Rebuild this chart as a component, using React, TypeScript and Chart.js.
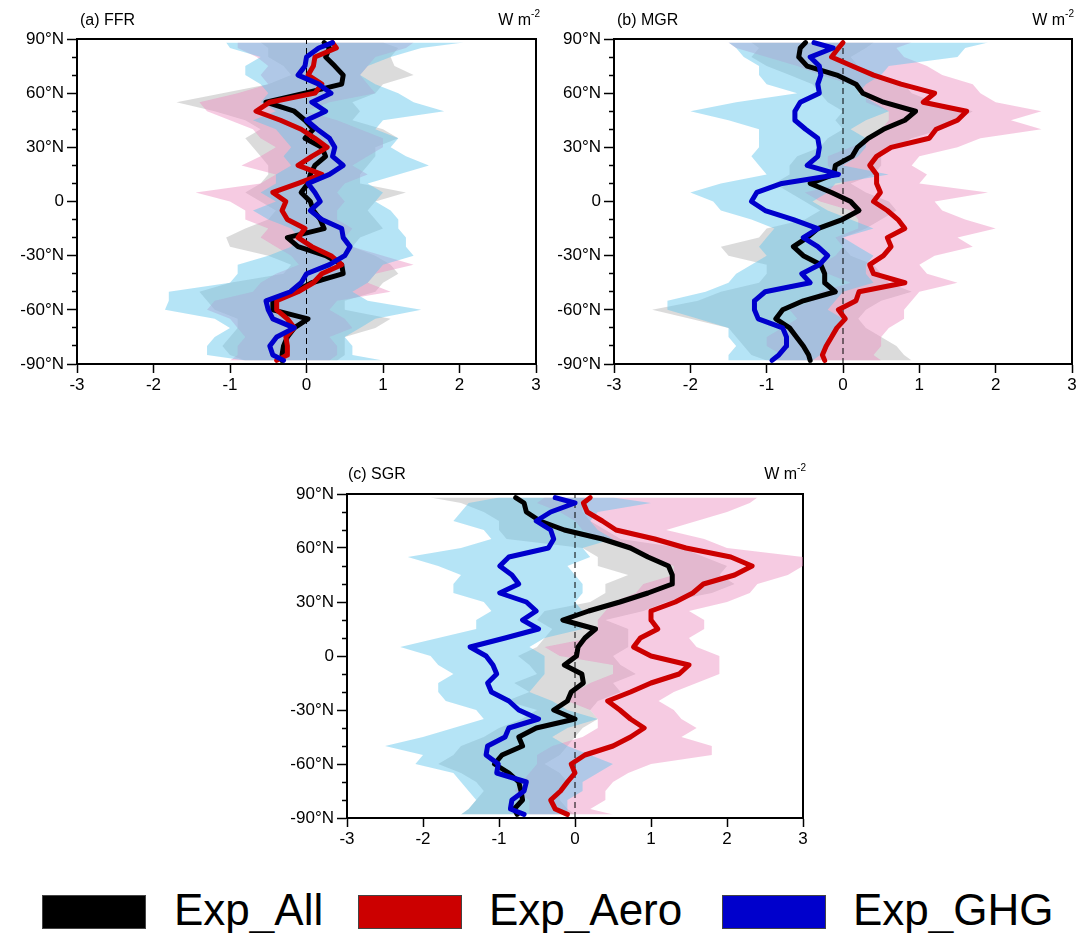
import React, { useEffect, useRef } from 'react';
import { Chart, registerables } from 'chart.js';

Chart.register(...registerables);

// Latitudes (north to south)
const lats = [88, 85, 80, 75, 70, 65, 60, 55, 50, 45, 40, 35, 30, 25, 20, 15, 10, 5, 0, -5, -10, -15, -20, -25, -30, -35, -40, -45, -50, -55, -60, -65, -70, -75, -80, -85, -88];

// x-axis ticks
const xTicks = [-3, -2, -1, 0, 1, 2, 3];

// ---------- (a) FFR ----------
const ffrAll = [0.23, 0.30, 0.25, 0.37, 0.48, 0.46, -0.02, -0.53, -0.16, -0.02, 0.09, -0.02, 0.20, 0.25, 0.11, 0.05, 0.02, -0.07, 0.05, 0.09, 0.18, 0.23, -0.25, -0.11, 0.25, 0.46, 0.48, 0.07, -0.16, -0.44, -0.44, 0.02, -0.16, -0.25, -0.30, -0.32, -0.32];
const ffrAero = [0.34, 0.39, 0.11, 0.09, 0.02, 0.20, 0.11, -0.48, -0.66, -0.34, -0.07, 0.11, 0.27, 0.07, -0.11, 0.20, -0.11, -0.44, -0.27, -0.32, -0.25, -0.02, -0.11, 0.07, 0.32, 0.46, 0.20, 0.09, -0.11, -0.39, -0.39, -0.25, -0.16, -0.27, -0.25, -0.25, -0.39];
const ffrGhg = [0.34, 0.16, 0.00, -0.02, -0.11, 0.16, 0.32, 0.07, 0.25, 0.00, 0.14, 0.30, 0.37, 0.34, 0.48, 0.30, 0.02, 0.11, 0.18, 0.05, 0.20, 0.46, 0.48, 0.57, 0.50, 0.30, 0.00, -0.07, -0.21, -0.53, -0.50, -0.44, -0.16, -0.39, -0.48, -0.44, -0.30];
const ffrAllLo = [-0.6, -0.5, -0.5, -0.3, -0.2, -0.5, -1.1, -1.7, -1.2, -0.8, -0.6, -0.8, -0.7, -0.6, -0.5, -0.5, -0.6, -0.8, -0.6, -0.4, -0.5, -0.8, -1.05, -1.0, -0.5, -0.2, -0.3, -1.0, -1.4, -1.3, -1.2, -0.9, -0.9, -1.0, -1.1, -1.0, -0.8];
const ffrAllHi = [1.0, 1.2, 1.1, 1.15, 1.4, 1.0, 0.9, 0.6, 0.7, 0.6, 1.0, 1.2, 0.9, 0.9, 0.8, 0.7, 0.7, 1.3, 0.9, 0.8, 0.9, 1.0, 0.7, 0.6, 0.9, 1.1, 1.2, 1.0, 0.9, 0.5, 0.5, 1.1, 0.9, 0.5, 0.5, 0.5, 0.4];
const ffrAeroLo = [-0.9, -0.9, -0.65, -0.5, -0.6, -0.5, -0.9, -1.4, -1.3, -1.0, -0.7, -0.6, -0.4, -0.6, -0.85, -0.4, -0.6, -1.45, -1.0, -0.8, -0.8, -0.5, -0.6, -0.4, -0.2, -0.1, -0.4, -0.6, -0.7, -1.2, -1.3, -1.0, -0.9, -0.8, -0.9, -0.9, -1.0];
const ffrAeroHi = [1.4, 1.3, 0.9, 0.8, 0.7, 0.8, 0.9, 0.3, 0.0, 0.4, 0.7, 1.0, 1.0, 0.8, 0.6, 0.8, 0.5, 0.4, 0.5, 0.4, 0.4, 0.6, 0.5, 0.6, 1.0, 1.4, 0.9, 0.8, 1.1, 0.4, 0.3, 0.5, 0.6, 0.3, 0.4, 0.4, 0.3];
const ffrGhgLo = [-1.05, -1.0, -0.6, -0.8, -0.8, -0.6, -0.5, -0.6, -0.4, -0.7, -0.4, -0.3, -0.2, -0.3, -0.2, -0.4, -0.4, -0.6, -0.4, -0.7, -0.5, -0.2, -0.1, -0.2, -0.5, -0.9, -0.9, -1.0, -1.8, -1.8, -1.85, -1.2, -1.0, -1.2, -1.3, -1.3, -0.8];
const ffrGhgHi = [2.05, 1.5, 1.1, 0.8, 0.7, 0.9, 1.2, 1.4, 1.8, 1.0, 0.9, 1.2, 1.1, 1.3, 1.6, 1.2, 0.8, 1.0, 0.9, 1.1, 1.2, 1.2, 1.3, 1.3, 1.4, 1.0, 0.9, 0.8, 0.6, 0.8, 1.5, 0.9, 0.7, 0.5, 0.6, 0.6, 1.0];

// ---------- (b) MGR ----------
const mgrAll = [-0.49, -0.56, -0.58, -0.47, -0.08, 0.17, 0.26, 0.53, 0.95, 0.81, 0.53, 0.33, 0.19, 0.12, -0.10, -0.12, -0.43, -0.15, 0.10, 0.21, -0.01, -0.33, -0.47, -0.65, -0.52, -0.29, -0.24, -0.24, -0.10, -0.52, -0.79, -0.88, -0.70, -0.61, -0.52, -0.45, -0.43];
const mgrAero = [0.00, -0.06, -0.15, 0.12, 0.40, 0.76, 1.20, 1.05, 1.62, 1.50, 1.22, 1.13, 0.63, 0.44, 0.35, 0.44, 0.44, 0.49, 0.40, 0.58, 0.72, 0.81, 0.58, 0.63, 0.53, 0.35, 0.40, 0.81, 0.21, 0.17, -0.06, 0.03, -0.08, -0.15, -0.22, -0.27, -0.24];
const mgrGhg = [-0.38, -0.13, -0.43, -0.31, -0.29, -0.33, -0.31, -0.56, -0.63, -0.63, -0.49, -0.33, -0.31, -0.33, -0.47, -0.06, -0.80, -1.13, -1.20, -1.02, -0.65, -0.33, -0.52, -0.33, -0.20, -0.31, -0.54, -0.43, -1.02, -1.16, -1.16, -1.11, -0.79, -0.74, -0.74, -0.84, -0.93];
const mgrAllLo = [-1.2, -1.1, -1.2, -1.0, -0.7, -0.4, -0.3, -0.2, 0.0, -0.1, 0.0, -0.2, -0.3, -0.6, -0.7, -0.7, -0.9, -0.7, -0.5, -0.3, -0.5, -1.0, -1.1, -1.6, -1.5, -1.0, -1.0, -1.1, -1.6, -1.9, -2.5, -2.0, -1.5, -1.4, -1.3, -1.2, -1.0];
const mgrAllHi = [0.4, 0.3, 0.1, 0.2, 0.5, 0.8, 0.9, 1.2, 1.7, 1.5, 1.3, 0.9, 0.7, 0.5, 0.5, 0.4, 0.1, 0.3, 0.6, 0.7, 0.5, 0.3, 0.0, 0.0, 0.1, 0.4, 0.5, 0.6, 0.9, 0.5, 0.3, 0.2, 0.3, 0.5, 0.7, 0.8, 0.9];
const mgrAeroLo = [-1.5, -1.4, -1.0, -0.6, -0.3, 0.1, 0.3, 0.3, 0.6, 0.6, 0.5, 0.4, 0.1, -0.2, -0.2, -0.1, 0.0, -0.5, -0.3, 0.1, 0.2, 0.2, -0.1, 0.0, -0.1, -0.3, -0.2, 0.1, -0.3, -0.4, -0.7, -0.6, -0.8, -1.0, -1.0, -0.8, -0.9];
const mgrAeroHi = [0.9, 0.7, 0.8, 1.1, 1.3, 1.7, 1.8, 2.0, 2.6, 2.2, 2.6, 1.8, 1.5, 1.0, 0.9, 1.1, 1.0, 1.9, 1.2, 1.3, 1.6, 2.0, 1.5, 1.7, 1.2, 1.0, 1.1, 1.5, 1.0, 0.9, 0.8, 0.8, 0.6, 0.5, 0.5, 0.4, 0.5];
const mgrGhgLo = [-1.5, -1.4, -1.3, -1.1, -1.1, -1.0, -0.6, -1.4, -2.0, -1.5, -1.1, -1.1, -1.1, -1.2, -1.1, -1.0, -1.6, -2.0, -1.7, -1.6, -1.2, -0.9, -1.0, -1.1, -1.0, -1.2, -1.4, -1.5, -1.8, -2.3, -2.3, -1.9, -1.5, -1.5, -1.4, -1.5, -1.5];
const mgrGhgHi = [1.9, 1.6, 1.5, 0.6, 0.5, 0.3, 0.2, 0.4, 0.6, 0.3, 0.1, 0.3, 0.3, 0.2, 0.0, 0.6, -0.1, -0.2, -0.4, -0.2, 0.1, 0.4, 0.0, 0.2, 0.4, 0.3, 0.3, 0.4, 0.0, -0.1, -0.2, 0.0, -0.1, -0.2, -0.2, -0.3, -0.4];

// ---------- (c) SGR ----------
const sgrAll = [-0.78, -0.67, -0.64, -0.46, -0.14, 0.36, 0.73, 0.96, 1.23, 1.28, 1.28, 0.96, 0.59, 0.18, -0.16, 0.27, 0.13, 0.04, 0.02, -0.14, 0.09, 0.11, -0.05, -0.10, -0.28, 0.00, -0.51, -0.74, -0.69, -0.96, -1.06, -0.87, -0.74, -0.71, -0.69, -0.80, -0.76];
const sgrAero = [0.20, 0.11, 0.16, 0.36, 0.54, 1.05, 1.46, 2.05, 2.33, 2.10, 1.69, 1.55, 1.32, 1.00, 1.00, 1.09, 0.86, 0.77, 1.00, 1.50, 1.37, 1.00, 0.73, 0.43, 0.59, 0.73, 0.91, 0.73, 0.50, 0.13, -0.05, 0.00, -0.10, -0.19, -0.32, -0.26, -0.10];
const sgrGhg = [-0.26, 0.00, -0.32, -0.51, -0.32, -0.28, -0.35, -0.87, -0.99, -0.83, -0.74, -0.99, -0.64, -0.51, -0.69, -0.48, -0.92, -1.38, -1.17, -1.08, -1.03, -1.15, -1.10, -0.87, -0.74, -0.48, -0.87, -0.92, -1.15, -1.17, -1.01, -1.03, -0.64, -0.67, -0.83, -0.85, -0.67];
const sgrAllLo = [-1.9, -1.5, -1.2, -1.0, -1.0, -0.9, 0.1, 0.3, 0.3, 0.7, 0.4, 0.4, 0.2, -0.4, -0.5, -0.3, -0.4, -0.5, -0.75, -0.6, -0.5, -0.8, -0.6, -0.9, -0.5, -0.7, -1.0, -1.2, -1.5, -1.6, -1.8, -1.5, -1.3, -1.2, -1.3, -1.4, -1.5];
const sgrAllHi = [0.2, 0.1, 0.1, 0.2, 0.4, 0.6, 1.4, 1.7, 2.0, 1.9, 2.1, 1.8, 1.2, 0.9, 0.4, 0.7, 0.7, 0.7, 0.5, 0.6, 0.8, 0.5, 0.6, 0.3, 0.2, 0.3, 0.1, 0.0, -0.1, -0.2, -0.4, -0.2, -0.1, -0.2, -0.2, -0.1, 0.0];
const sgrAeroLo = [-0.4, -0.5, -0.2, 0.0, 0.1, 0.4, 0.8, 1.0, 1.3, 1.3, 0.9, 0.8, 0.5, 0.4, 0.3, 0.3, 0.2, -0.4, -0.2, 0.5, 0.5, 0.2, 0.0, -0.1, 0.2, 0.3, 0.3, 0.1, -0.3, -0.5, -0.5, -0.6, -0.7, -0.8, -0.6, -0.6, -0.6];
const sgrAeroHi = [2.4, 2.3, 2.0, 1.6, 1.2, 1.7, 2.0, 3.0, 3.0, 2.8, 2.4, 2.3, 2.0, 1.5, 1.7, 1.7, 1.5, 1.6, 1.9, 1.9, 1.9, 1.6, 1.3, 1.1, 1.3, 1.4, 1.6, 1.4, 1.8, 1.8, 1.0, 0.7, 0.5, 0.4, 0.4, 0.2, 0.5];
const sgrGhgLo = [-1.0, -1.4, -1.5, -1.6, -1.2, -1.1, -1.5, -2.2, -1.8, -1.5, -1.6, -1.6, -1.2, -1.1, -1.3, -1.3, -1.8, -2.3, -1.9, -1.8, -1.6, -1.8, -1.8, -1.7, -1.3, -1.2, -1.6, -2.0, -2.5, -2.0, -2.1, -1.6, -1.5, -1.4, -1.3, -1.4, -1.5];
const sgrGhgHi = [0.5, 1.0, 0.3, 0.2, 0.3, 0.5, 0.1, 0.2, -0.1, 0.0, 0.1, 0.1, 0.0, 0.1, -0.1, 0.1, -0.4, -0.6, -0.4, -0.4, -0.4, -0.5, -0.6, -0.3, -0.1, 0.3, -0.1, -0.3, -0.1, 0.2, 0.5, 0.3, 0.1, 0.1, -0.1, -0.1, -0.1];

const seriesNames = ['Exp_All', 'Exp_Aero', 'Exp_GHG'];
const lineColors = ['#000000', '#cc0000', '#0000cc'];
const bandColors = ['rgba(170,170,170,0.42)', 'rgba(235,140,190,0.45)', 'rgba(100,198,236,0.48)'];

const FONT = "'Liberation Sans', Arial, Helvetica, sans-serif";

type PanelData = {
  title: string;
  lines: number[][];
  lo: number[][];
  hi: number[][];
};

const panels: PanelData[] = [
  { title: '(a) FFR', lines: [ffrAll, ffrAero, ffrGhg], lo: [ffrAllLo, ffrAeroLo, ffrGhgLo], hi: [ffrAllHi, ffrAeroHi, ffrGhgHi] },
  { title: '(b) MGR', lines: [mgrAll, mgrAero, mgrGhg], lo: [mgrAllLo, mgrAeroLo, mgrGhgLo], hi: [mgrAllHi, mgrAeroHi, mgrGhgHi] },
  { title: '(c) SGR', lines: [sgrAll, sgrAero, sgrGhg], lo: [sgrAllLo, sgrAeroLo, sgrGhgLo], hi: [sgrAllHi, sgrAeroHi, sgrGhgHi] },
];

function toPoints(vals: number[]) {
  return vals.map((v, i) => ({ x: v, y: lats[i] }));
}

function latLabel(v: number) {
  if (v === 0) return '0';
  return `${v}°N`;
}

function Panel({ data, left, top, width, height, padRight }: { data: PanelData; left: number; top: number; width: number; height: number; padRight: number }) {
  const ref = useRef<HTMLCanvasElement>(null);
  useEffect(() => {
    if (!ref.current) return;
    const datasets: any[] = [];
    // bands: gray (bottom), pink, cyan (top)
    for (let s = 0; s < 3; s++) {
      datasets.push({
        data: toPoints(data.lo[s]),
        borderWidth: 0,
        pointRadius: 0,
        fill: false,
        order: 30 - s * 5,
      });
      datasets.push({
        data: toPoints(data.hi[s]),
        borderWidth: 0,
        pointRadius: 0,
        fill: '-1',
        backgroundColor: bandColors[s],
        order: 30 - s * 5,
      });
    }
    // zero dashed line
    datasets.push({
      data: [{ x: 0, y: -90 }, { x: 0, y: 90 }],
      borderColor: '#000',
      borderWidth: 1,
      borderDash: [6, 4],
      pointRadius: 0,
      fill: false,
      order: 8,
    });
    // lines
    for (let s = 0; s < 3; s++) {
      datasets.push({
        label: seriesNames[s],
        data: toPoints(data.lines[s]),
        borderColor: lineColors[s],
        borderWidth: 5,
        pointRadius: 0,
        fill: false,
        tension: 0,
        borderJoinStyle: 'round',
        borderCapStyle: 'round',
        order: 3 - s,
      });
    }

    const tickFont = { family: FONT, size: 17 };
    const chart = new Chart(ref.current, {
      type: 'line',
      data: { datasets },
      options: {
        indexAxis: 'y',
        animation: false,
        responsive: false,
        maintainAspectRatio: false,
        events: [],
        layout: { padding: { top: 39, right: padRight, left: 0, bottom: 0 } },
        plugins: { legend: { display: false }, tooltip: { enabled: false } },
        scales: {
          x: {
            type: 'linear',
            position: 'bottom',
            min: xTicks[0],
            max: xTicks[xTicks.length - 1],
            afterBuildTicks: (scale: any) => {
              scale.ticks = xTicks.map((v) => ({ value: v }));
            },
            ticks: { color: '#000', font: tickFont, padding: 2, callback: (v: any) => String(v) },
            grid: { drawOnChartArea: false, drawTicks: true, tickLength: 9, tickColor: '#000', tickWidth: 1.5 },
            border: { display: true, color: '#000', width: 2 },
            afterFit: (scale: any) => { scale.height = 36; },
          },
          y: {
            type: 'linear',
            position: 'left',
            min: -90,
            max: 90,
            ticks: {
              stepSize: 10,
              autoSkip: false,
              color: '#000',
              font: tickFont,
              padding: 3,
              callback: (v: any) => (Number(v) % 30 === 0 ? latLabel(Number(v)) : ''),
            },
            grid: {
              drawOnChartArea: false,
              drawTicks: true,
              tickLength: 10,
              tickColor: '#000',
              tickWidth: 1.5,
              tickBorderDash: (ctx: any) => (ctx.tick && Math.abs(ctx.tick.value) % 30 !== 0 ? [0, 5, 5, 100] : []),
            },
            border: { display: true, color: '#000', width: 2 },
            afterFit: (scale: any) => { scale.width = 77; },
          },
          x2: {
            type: 'linear',
            axis: 'x',
            position: 'top',
            min: -3,
            max: 3,
            ticks: { display: false },
            grid: { display: false, drawTicks: false },
            border: { display: true, color: '#000', width: 2 },
            afterFit: (scale: any) => { scale.height = 0; },
          },
          y2: {
            type: 'linear',
            axis: 'y',
            position: 'right',
            min: -90,
            max: 90,
            ticks: { display: false },
            grid: { display: false, drawTicks: false },
            border: { display: true, color: '#000', width: 2 },
            afterFit: (scale: any) => { scale.width = 0; },
          },
        } as any,
      },
    } as any);
    return () => chart.destroy();
  }, [data, padRight]);

  return (
    <canvas
      ref={ref}
      width={width}
      height={height}
      style={{ position: 'absolute', left, top, width, height }}
    />
  );
}

function Title({ text, left, right, top }: { text: string; left: number; right: number; top: number }) {
  return (
    <>
      <div style={{ position: 'absolute', left, top, fontFamily: FONT, fontSize: 16, lineHeight: '16px', color: '#000', whiteSpace: 'nowrap' }}>{text}</div>
      <div style={{ position: 'absolute', left: right - 70, width: 70, top, textAlign: 'right', fontFamily: FONT, fontSize: 16, lineHeight: '16px', color: '#000', whiteSpace: 'nowrap' }}>
        W m<sup style={{ fontSize: 10, verticalAlign: 'top', lineHeight: '10px', position: 'relative', top: -3 }}>-2</sup>
      </div>
    </>
  );
}

const legendItems = [
  { boxLeft: 42, textLeft: 174 },
  { boxLeft: 358, textLeft: 489 },
  { boxLeft: 722, textLeft: 853 },
];

export default function App() {
  return (
    <div style={{ position: 'absolute', left: 0, top: 0, width: 1089, height: 933, background: '#fff', overflow: 'hidden' }}>
      <Panel data={panels[0]} left={0} top={0} width={545} height={400} padRight={9} />
      <Panel data={panels[1]} left={537} top={0} width={545} height={400} padRight={10} />
      <Panel data={panels[2]} left={270} top={455} width={545} height={399} padRight={12} />
      <Title text={panels[0].title} left={80} right={540} top={12} />
      <Title text={panels[1].title} left={617} right={1074} top={12} />
      <Title text={panels[2].title} left={348} right={806} top={466} />
      {legendItems.map((it, i) => (
        <React.Fragment key={i}>
          <div style={{ position: 'absolute', left: it.boxLeft, top: 895, width: 102, height: 32, background: lineColors[i], border: '1px solid #444' }} />
          <div style={{ position: 'absolute', left: it.textLeft, top: 888, fontFamily: FONT, fontSize: 44, lineHeight: '44px', color: '#000', whiteSpace: 'nowrap' }}>{seriesNames[i]}</div>
        </React.Fragment>
      ))}
    </div>
  );
}
